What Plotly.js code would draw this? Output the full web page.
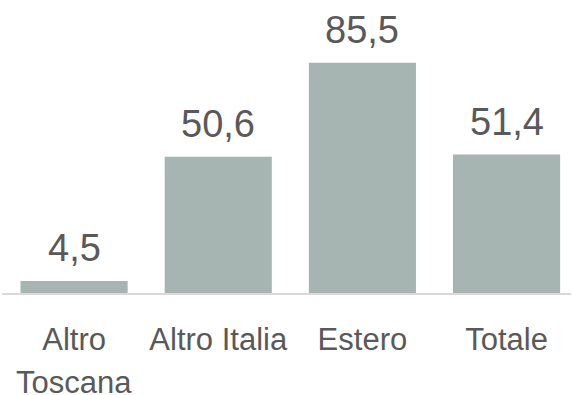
<!DOCTYPE html>
<html>
<head>
<meta charset="utf-8">
<script src="https://cdn.plot.ly/plotly-3.0.1.min.js"></script>
<style>html,body{margin:0;padding:0;background:#fff;}#chart{width:572px;height:395px;}</style>
</head>
<body>
<div id="chart"></div>
<script>
var categories = ["Altro Toscana", "Altro Italia", "Estero", "Totale"];
var tickFirstLine = ["Altro", "Altro Italia", "Estero", "Totale"];
var tickSecondLine = ["Toscana", "", "", ""];
var values = [4.5, 50.6, 85.5, 51.4];

function fmt(v) { return v.toFixed(1).replace(".", ","); }

var FONT = "Liberation Sans, Arial, sans-serif";
var TXT = "#595959";

var trace = {
  type: "bar",
  x: categories,
  y: values,
  marker: { color: "#a6b4b2" },
  width: 0.743,
  hoverinfo: "none"
};

var annotations = categories.map(function (c, i) {
  return {
    x: c, y: values[i], xref: "x", yref: "y",
    text: fmt(values[i]),
    showarrow: false,
    yanchor: "bottom",
    yshift: 10,
    font: { family: FONT, size: 38, color: TXT }
  };
});
categories.forEach(function (c, i) {
  if (tickSecondLine[i]) {
    annotations.push({
      x: c, y: 0, xref: "x", yref: "paper",
      text: tickSecondLine[i],
      showarrow: false,
      yanchor: "top",
      yshift: -71,
      borderpad: 0,
      font: { family: FONT, size: 31, color: TXT }
    });
  }
});

var layout = {
  width: 572, height: 395,
  margin: { l: 2, r: 1, t: 0, b: 102, pad: 0 },
  paper_bgcolor: "#ffffff",
  plot_bgcolor: "#ffffff",
  showlegend: false,
  xaxis: {
    type: "category",
    categoryorder: "array",
    categoryarray: categories,
    tickvals: categories,
    ticktext: tickFirstLine,
    range: [-0.5, 3.447],
    showline: true,
    linecolor: "#d9d9d9",
    linewidth: 1.5,
    ticks: "",
    showgrid: false,
    zeroline: false,
    ticklabelstandoff: 18,
    tickfont: { family: FONT, size: 31, color: TXT }
  },
  yaxis: {
    range: [0, 108.8],
    visible: false,
    showgrid: false,
    zeroline: false
  },
  annotations: annotations
};

Plotly.newPlot("chart", [trace], layout, { staticPlot: true, displayModeBar: false });
</script>
</body>
</html>
